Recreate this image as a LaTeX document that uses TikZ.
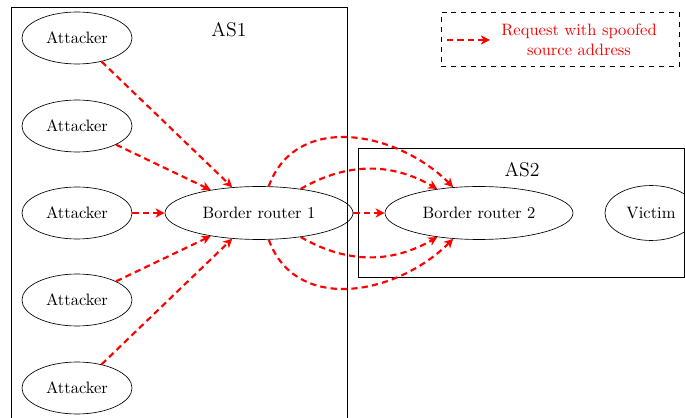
\documentclass[tikz,border=0pt]{standalone}
\usetikzlibrary{shapes.geometric,arrows.meta}
\begin{document}
\begin{tikzpicture}[x=0.606pt,y=-0.606pt,
  ell/.style={draw,ellipse,inner sep=0pt,font=\normalsize},
  attacker/.style={ell,minimum width=66.7pt,minimum height=31.5pt},
  router/.style={ell,minimum width=113.9pt,minimum height=32.1pt},
  spoof/.style={draw=red,line width=1.3pt,dash pattern=on 3.8pt off 2.5pt,-{Stealth[length=5.5pt,width=5.5pt,inset=1.6pt]}},
  asbox/.style={draw,line width=0.5pt,inner sep=0pt,anchor=north west},
  aslabel/.style={font=\large}]
\clip (0,0) rectangle (685,418);
% autonomous system boxes
\node[asbox,minimum width=203.6pt,minimum height=260pt] (as1box) at (11,7) {};
\node[asbox,minimum width=197.6pt,minimum height=78.2pt] (as2box) at (358,148) {};
\node[aslabel] (as1) at (229,30) {AS1};
\node[aslabel] (as2) at (522,170) {AS2};
% nodes
\node[attacker] (a1) at (77,38) {Attacker};
\node[attacker] (a2) at (77,126) {Attacker};
\node[attacker] (a3) at (77,213) {Attacker};
\node[attacker] (a4) at (77,300) {Attacker};
\node[attacker] (a5) at (77,388) {Attacker};
\node[router] (br1) at (259,213) {Border router 1};
\node[router] (br2) at (479,213) {Border router 2};
\node[ell,minimum width=55.8pt,minimum height=33.3pt] (victim) at (651,213) {Victim};
% connectors
\foreach \a in {a1,a2,a3,a4,a5} \draw[spoof] (\a) -- (br1);
\draw[spoof] (br1) -- (br2);
\draw[spoof] (br1) to[out=70,in=135,looseness=1.1] (br2);
\draw[spoof] (br1) to[out=30,in=150] (br2);
\draw[spoof] (br1) to[out=-30,in=-150] (br2);
\draw[spoof] (br1) to[out=-70,in=-135,looseness=1.1] (br2);
% legend
\node[draw,dashed,line width=0.5pt,inner sep=0pt,anchor=north west,minimum width=144.2pt,minimum height=32.7pt] (legend) at (441,12) {};
\coordinate (la) at (447,40);
\coordinate (lb) at (490,40);
\draw[spoof] (la) -- (lb);
\node[text=red,align=center] (lt) at (579,40) {Request with spoofed\\source address};
\end{tikzpicture}
\end{document}
